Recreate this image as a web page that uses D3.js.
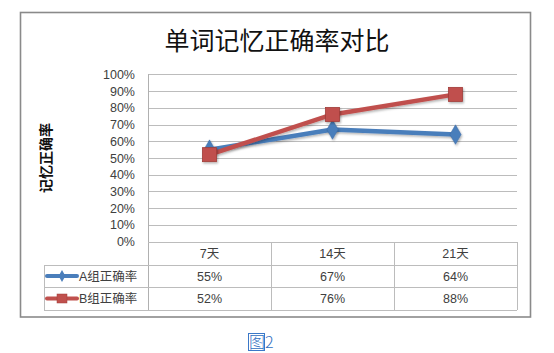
<!DOCTYPE html>
<html><head><meta charset="utf-8">
<script src="https://cdn.jsdelivr.net/npm/d3@7/dist/d3.min.js"></script>
<style>
html,body{margin:0;padding:0;background:#fff;}
svg{display:block;}
text{font-family:"Liberation Sans","Noto Sans CJK SC",sans-serif;}
</style></head>
<body><svg id="c" width="554" height="353"></svg>
<script>
const title = "单词记忆正确率对比";
const yTitle = "记忆正确率";
const categories = ["7天","14天","21天"];
const seriesNames = ["A组正确率","B组正确率"];
const seriesA = [55,67,64];
const seriesB = [52,76,88];
const yTicks = [0,10,20,30,40,50,60,70,80,90,100];
const caption = "图2";

const svg = d3.select("#c");
const colors = ["#4a7ebb","#c0504d"];
const dark = ["#3a6aa5","#a03c39"];

const L=148, R=517, T=74.3, B=241.7;
const x = d3.scaleBand().domain(categories).range([L,R]);
const y = d3.scaleLinear().domain([0,100]).range([B,T]);

const defs = svg.append("defs");
const f = defs.append("filter").attr("id","sh").attr("x","-30%").attr("y","-30%").attr("width","160%").attr("height","160%");
f.append("feDropShadow").attr("dx",1).attr("dy",1.5).attr("stdDeviation",1).attr("flood-color","#000").attr("flood-opacity",0.3);

svg.append("rect").attr("x",20.5).attr("y",12.5).attr("width",510).attr("height",304.5)
  .attr("fill","#fff").attr("stroke","#8a8a8a").attr("stroke-width",1.6);

svg.append("text").attr("x",277).attr("y",50).attr("text-anchor","middle")
  .style("font-family","'Noto Sans CJK SC',sans-serif").style("font-size","25px").attr("fill","#111").text(title);

const gridG = svg.append("g");
gridG.selectAll("line").data(yTicks).join("line")
  .attr("x1",L).attr("x2",R).attr("y1",d=>Math.round(y(d))+0.5).attr("y2",d=>Math.round(y(d))+0.5)
  .attr("stroke","#bcbcbc").attr("stroke-width",1);
svg.append("line").attr("x1",L+0.5).attr("x2",L+0.5).attr("y1",T).attr("y2",310).attr("stroke","#b0b0b0");

const yAxis = d3.axisLeft(y).tickValues(yTicks).tickFormat(d=>d+"%").tickSize(0).tickPadding(13);
const ya = svg.append("g").attr("transform",`translate(${L},0)`).call(yAxis);
ya.select(".domain").remove();
ya.selectAll("text").style("font-size","12.5px").attr("fill","#404040").style("font-family","'Liberation Sans',sans-serif");

svg.append("text").attr("transform","translate(51,158) rotate(-90)").attr("text-anchor","middle")
  .style("font-family","'Noto Sans CJK SC',serif").style("font-weight","700").style("font-size","14px")
  .attr("fill","#111").text(yTitle);

const rowY = [242,265,287,310];
const tg = svg.append("g").attr("stroke","#bcbcbc").attr("stroke-width",1);
tg.append("line").attr("x1",L).attr("x2",R).attr("y1",rowY[0]+0.5).attr("y2",rowY[0]+0.5);
[1,2,3].forEach(i=>{
  tg.append("line").attr("x1",44).attr("x2",R).attr("y1",rowY[i]+0.5).attr("y2",rowY[i]+0.5);
});
categories.forEach(c=>{
  tg.append("line").attr("x1",x(c)+x.bandwidth()+0.5).attr("x2",x(c)+x.bandwidth()+0.5).attr("y1",rowY[0]).attr("y2",rowY[3]);
});
tg.append("line").attr("x1",44.5).attr("x2",44.5).attr("y1",rowY[1]).attr("y2",rowY[3]);

svg.selectAll(".cat").data(categories).join("text").attr("class","cat")
  .attr("x",d=>x(d)+x.bandwidth()/2).attr("y",(rowY[0]+rowY[1])/2+4.5).attr("text-anchor","middle")
  .style("font-size","12.5px").attr("fill","#404040").text(d=>d);

const series = [seriesA, seriesB];
series.forEach((vals,si)=>{
  const cy = (rowY[si+1]+rowY[si+2])/2+4.5;
  svg.selectAll(".v"+si).data(vals).join("text").attr("class","v"+si)
    .attr("x",(d,i)=>x(categories[i])+x.bandwidth()/2).attr("y",cy).attr("text-anchor","middle")
    .style("font-size","12.5px").attr("fill","#404040").text(d=>d+"%");
  const ly = (rowY[si+1]+rowY[si+2])/2;
  svg.append("line").attr("x1",47).attr("x2",77).attr("y1",ly).attr("y2",ly)
    .attr("stroke",colors[si]).attr("stroke-width",4).attr("stroke-linecap","round");
  if(si===0){
    svg.append("path").attr("d",d3.symbol(d3.symbolDiamond,40)()).attr("transform",`translate(62,${ly})`).attr("fill",colors[0]);
  } else {
    svg.append("rect").attr("x",57).attr("y",ly-4.5).attr("width",10).attr("height",9).attr("fill",colors[1]).attr("stroke",dark[1]).attr("stroke-width",0.5);
  }
  svg.append("text").attr("x",79).attr("y",ly+4.5).style("font-size","12.5px").attr("fill","#404040")
    .text(seriesNames[si]);
});

const line = d3.line().x((d,i)=>x(categories[i])+x.bandwidth()/2).y(d=>y(d));
series.forEach((vals,si)=>{
  const g = svg.append("g").attr("filter","url(#sh)");
  g.append("path").datum(vals).attr("d",line).attr("fill","none")
    .attr("stroke",colors[si]).attr("stroke-width",4.5).attr("stroke-linejoin","round");
});
svg.append("g").attr("filter","url(#sh)").selectAll("path").data(seriesA).join("path")
  .attr("d",d3.symbol(d3.symbolDiamond,110)())
  .attr("transform",(d,i)=>`translate(${x(categories[i])+x.bandwidth()/2},${y(d)})`)
  .attr("fill",colors[0]).attr("stroke",dark[0]).attr("stroke-width",0.5);
svg.append("g").attr("filter","url(#sh)").selectAll("rect").data(seriesB).join("rect")
  .attr("x",(d,i)=>x(categories[i])+x.bandwidth()/2-7).attr("y",d=>y(d)-7)
  .attr("width",14).attr("height",14)
  .attr("fill",colors[1]).attr("stroke",dark[1]).attr("stroke-width",0.8);

// caption
svg.append("rect").attr("x",248.5).attr("y",333.5).attr("width",16).attr("height",17).attr("fill","none").attr("stroke","#3b78c8").attr("stroke-width",1);
svg.append("text").attr("x",249).attr("y",348)
  .style("font-family","'Noto Sans CJK SC',sans-serif").style("font-size","16px").style("font-weight","300").attr("fill","#2e6dbf").text(caption);
</script>
</body></html>
